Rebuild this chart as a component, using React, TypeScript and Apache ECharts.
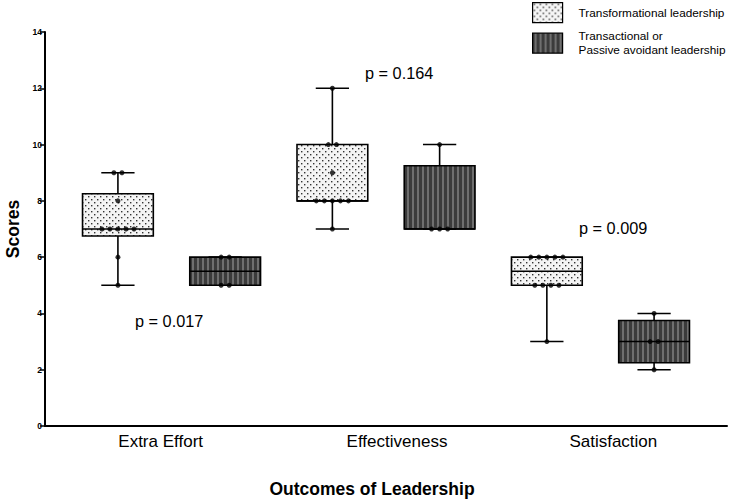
import React, { useEffect, useRef } from "react";
import * as echarts from "echarts";

// Outcome categories on the x axis
const categories = ["Extra Effort", "Effectiveness", "Satisfaction"];

// Leadership style groups (legend entries)
const groupNames = ["Transformational leadership", "Transactional or\nPassive avoidant leadership"];

// Individual scores per outcome, transformational group
const transformationalScores = [
  [5, 6, 7, 7, 7, 7, 7, 8, 9, 9],
  [7, 8, 8, 8, 8, 8, 9, 10, 10, 12],
  [3, 5, 5, 5, 5, 6, 6, 6, 6, 6],
];

// Individual scores per outcome, transactional / passive avoidant group
const transactionalScores = [
  [5, 5, 6, 6],
  [7, 7, 7, 10],
  [2, 3, 3, 4],
];

// p values comparing the two groups for each outcome
const pValues = ["p = 0.017", "p = 0.164", "p = 0.009"];

const FONT = "'Liberation Sans', Arial, Helvetica, sans-serif";

// Quantile with (n + 1) positioning, as used by Prism box plots
function quantile(values: number[], p: number): number {
  const s = [...values].sort((a, b) => a - b);
  const n = s.length;
  const pos = p * (n + 1);
  const lo = Math.floor(pos);
  const frac = pos - lo;
  if (lo < 1) return s[0];
  if (lo >= n) return s[n - 1];
  return s[lo - 1] + frac * (s[lo] - s[lo - 1]);
}

function boxStats(values: number[]) {
  return [
    Math.min(...values),
    quantile(values, 0.25),
    quantile(values, 0.5),
    quantile(values, 0.75),
    Math.max(...values),
  ];
}

// Spread tied values side by side like a dot plot
function dotPoints(values: number[], slot: number, step: number) {
  const counts = new Map<number, number>();
  values.forEach((v) => counts.set(v, (counts.get(v) || 0) + 1));
  const seen = new Map<number, number>();
  const out: number[][] = [];
  values.forEach((v) => {
    const k = counts.get(v)!;
    const i = seen.get(v) || 0;
    seen.set(v, i + 1);
    out.push([slot + (i - (k - 1) / 2) * step, v]);
  });
  return out;
}

function dotPatternCanvas(): HTMLCanvasElement {
  const c = document.createElement("canvas");
  c.width = 6;
  c.height = 6;
  const ctx = c.getContext("2d")!;
  ctx.fillStyle = "#f4f4f4";
  ctx.fillRect(0, 0, 6, 6);
  ctx.fillStyle = "#333";
  ctx.fillRect(1, 1, 1.4, 1.4);
  ctx.fillRect(4, 4, 1.4, 1.4);
  return c;
}

function stripePatternCanvas(): HTMLCanvasElement {
  const c = document.createElement("canvas");
  c.width = 5;
  c.height = 4;
  const ctx = c.getContext("2d")!;
  ctx.fillStyle = "#3b3b3b";
  ctx.fillRect(0, 0, 5, 4);
  ctx.fillStyle = "#6f6f6f";
  ctx.fillRect(2, 0, 2, 4);
  return c;
}

// Horizontal nudge of each category label, in px
const labelShift: Record<string, number> = { "Extra Effort": 2, Effectiveness: 11, Satisfaction: 0 };

export default function App() {
  const ref = useRef<HTMLDivElement>(null);

  useEffect(() => {
    if (!ref.current) return;
    const chart = echarts.init(ref.current, undefined, { renderer: "svg" });

    const patterns = [
      { image: dotPatternCanvas(), repeat: "repeat" },
      { image: stripePatternCanvas(), repeat: "repeat" },
    ];
    const groups = [transformationalScores, transactionalScores];

    const boxSeries = groups.map((scores, g) => ({
      type: "custom",
      name: groupNames[g],
      xAxisIndex: 0,
      yAxisIndex: 0,
      z: 2,
      itemStyle: { color: patterns[g] as any, borderColor: "#000", borderWidth: 1.5 },
      encode: { x: 0, y: [1, 2, 3, 4, 5] },
      data: scores.map((vals, c) => [c * 2 + g, ...boxStats(vals)]),
      renderItem: (params: any, api: any) => {
        const x = api.value(0);
        const [pMin, pQ1, pMed, pQ3, pMax] = [1, 2, 3, 4, 5].map((i) =>
          api.coord([x, api.value(i)])
        );
        const cx = pMin[0];
        const halfW = api.size([0.66, 0])[0] / 2;
        const capHalf = halfW * 0.47;
        const stroke = { stroke: "#000", lineWidth: 1.6 };
        return {
          type: "group",
          children: [
            { type: "line", shape: { x1: cx, y1: pMax[1], x2: cx, y2: pQ3[1] }, style: stroke },
            { type: "line", shape: { x1: cx, y1: pQ1[1], x2: cx, y2: pMin[1] }, style: stroke },
            { type: "line", shape: { x1: cx - capHalf, y1: pMax[1], x2: cx + capHalf, y2: pMax[1] }, style: stroke },
            { type: "line", shape: { x1: cx - capHalf, y1: pMin[1], x2: cx + capHalf, y2: pMin[1] }, style: stroke },
            {
              type: "rect",
              shape: { x: cx - halfW, y: pQ3[1], width: halfW * 2, height: pQ1[1] - pQ3[1] },
              style: { fill: patterns[g], stroke: "#000", lineWidth: 1.6 },
            },
            { type: "line", shape: { x1: cx - halfW, y1: pMed[1], x2: cx + halfW, y2: pMed[1] }, style: stroke },
          ],
        };
      },
    }));

    const dotSeries = groups.map((scores, g) => ({
      type: "scatter",
      name: "dots-" + g,
      xAxisIndex: 0,
      yAxisIndex: 0,
      z: 5,
      symbol: "circle",
      symbolSize: 5,
      itemStyle: { color: "#000" },
      data: scores.flatMap((vals, c) => dotPoints(vals, c * 2 + g, 0.075)),
    }));

    const pLabelPos = [
      [135, 321],
      [365, 73],
      [579, 228],
    ];

    const richLabels: Record<string, any> = {};
    categories.forEach((c, i) => {
      richLabels["c" + i] = {
        fontSize: 17,
        color: "#000",
        fontFamily: FONT,
        padding: [0, 0, 0, labelShift[c] * 2],
      };
    });

    chart.setOption({
      animation: false,
      backgroundColor: "#fff",
      textStyle: { fontFamily: FONT },
      grid: { left: 45, right: 23, top: 32, bottom: 77, containLabel: false, outerBoundsMode: "none" },
      legend: {
        data: groupNames,
        orient: "vertical",
        left: 532,
        top: 2,
        padding: 0,
        icon: "rect",
        itemWidth: 30,
        itemHeight: 20,
        itemGap: 6,
        selectedMode: false,
        itemStyle: { borderColor: "#000", borderWidth: 1.2 },
        textStyle: { fontSize: 11.8, color: "#000", fontFamily: FONT, lineHeight: 14, padding: [0, 0, 0, 11] },
      },
      xAxis: [
        {
          type: "value",
          gridIndex: 0,
          min: -0.68,
          max: 5.68,
          axisLine: { show: true, onZero: false, lineStyle: { color: "#000", width: 2 } },
          axisTick: { show: false },
          axisLabel: { show: false },
          splitLine: { show: false },
        },
        {
          type: "category",
          gridIndex: 0,
          position: "bottom",
          data: categories,
          axisLine: { show: false },
          axisTick: { show: false },
          axisLabel: {
            color: "#000",
            fontSize: 17,
            margin: 7,
            fontFamily: FONT,
            formatter: (v: string) => `{c${categories.indexOf(v)}|${v}}`,
            rich: richLabels,
          },
          name: "Outcomes of Leadership",
          nameLocation: "middle",
          nameGap: 54,
          nameTextStyle: {
            color: "#000",
            fontSize: 17.5,
            fontWeight: "bold",
            fontFamily: FONT,
            padding: [0, 28, 0, 0],
          },
        },
      ],
      yAxis: {
        type: "value",
        min: 0,
        max: 14,
        interval: 2,
        axisLine: { show: true, onZero: false, lineStyle: { color: "#000", width: 2 } },
        axisTick: { show: true, length: 5, lineStyle: { color: "#000", width: 1.5 } },
        axisLabel: { color: "#000", fontSize: 8.5, fontWeight: "bold", margin: 3, fontFamily: FONT },
        splitLine: { show: false },
        name: "Scores",
        nameLocation: "middle",
        nameGap: 19,
        nameTextStyle: { color: "#000", fontSize: 17.5, fontWeight: "bold", fontFamily: FONT },
      },
      graphic: pValues.map((t, i) => ({
        type: "text",
        x: pLabelPos[i][0],
        y: pLabelPos[i][1],
        style: { text: t, fontSize: 16.3, fontFamily: FONT, fill: "#000", verticalAlign: "middle" },
      })),
      series: [...boxSeries, ...dotSeries],
    } as any);

    return () => chart.dispose();
  }, []);

  return (
    <div
      ref={ref}
      style={{ position: "absolute", left: 0, top: 0, width: 750, height: 503, background: "#fff" }}
    />
  );
}
